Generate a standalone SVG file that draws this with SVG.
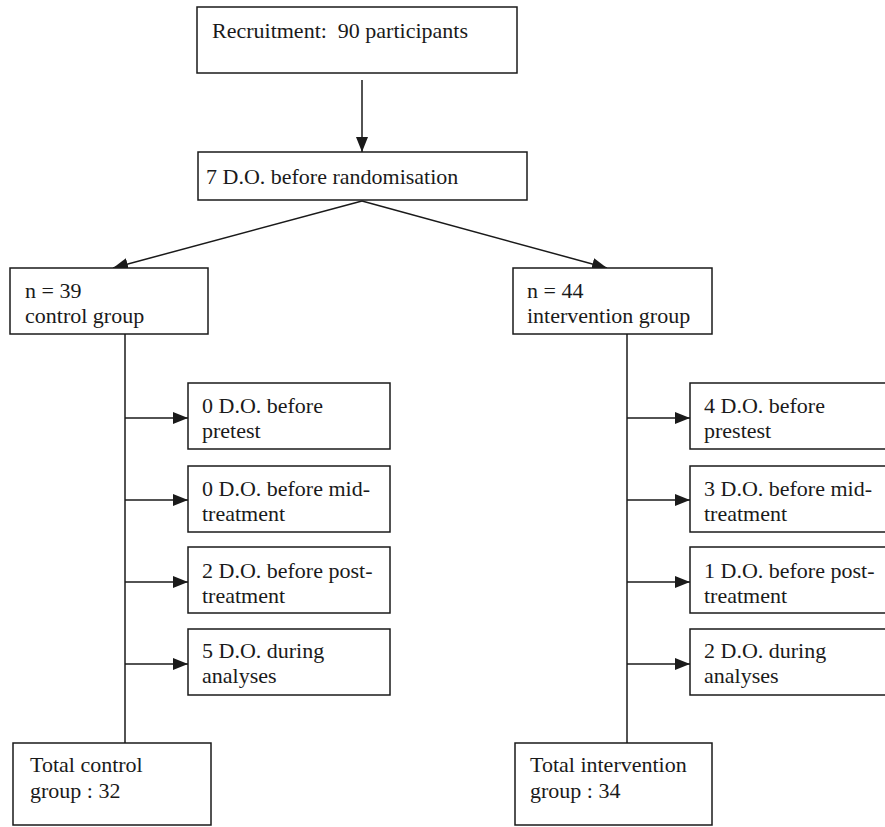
<svg xmlns="http://www.w3.org/2000/svg" width="885" height="827" viewBox="0 0 885 827">
<style>
.box{fill:#fff;stroke:#1a1a1a;stroke-width:1.5}
.t{font-family:"Liberation Serif","Times New Roman",serif;font-size:22px;fill:#1a1a1a;white-space:pre}
.ln{stroke:#1a1a1a;stroke-width:1.5;fill:none}
</style>
<defs>
<marker id="ah" viewBox="0 0 15 12" refX="15" refY="6" markerWidth="15" markerHeight="12" markerUnits="userSpaceOnUse" orient="auto">
<path d="M0,0 L15,6 L0,12 z" fill="#1a1a1a"/>
</marker>
</defs>
<rect width="885" height="827" fill="#fff"/>
<g id="connectors">
<line class="ln" x1="362" y1="80" x2="362" y2="152" marker-end="url(#ah)"/>
<line class="ln" x1="362" y1="201" x2="113" y2="268" marker-end="url(#ah)"/>
<line class="ln" x1="362" y1="201" x2="607" y2="268" marker-end="url(#ah)"/>
<line class="ln" x1="125" y1="334" x2="125" y2="743"/>
<line class="ln" x1="627" y1="334" x2="627" y2="743"/>
<line class="ln" x1="125" y1="418" x2="188" y2="418" marker-end="url(#ah)"/>
<line class="ln" x1="125" y1="500" x2="188" y2="500" marker-end="url(#ah)"/>
<line class="ln" x1="125" y1="582" x2="188" y2="582" marker-end="url(#ah)"/>
<line class="ln" x1="125" y1="664" x2="188" y2="664" marker-end="url(#ah)"/>
<line class="ln" x1="627" y1="418" x2="690" y2="418" marker-end="url(#ah)"/>
<line class="ln" x1="627" y1="500" x2="690" y2="500" marker-end="url(#ah)"/>
<line class="ln" x1="627" y1="582" x2="690" y2="582" marker-end="url(#ah)"/>
<line class="ln" x1="627" y1="664" x2="690" y2="664" marker-end="url(#ah)"/>
</g>
<g id="recruitment"><rect class="box" x="197" y="7" width="320" height="66"/><text class="t" x="212" y="38" xml:space="preserve">Recruitment:  90 participants</text></g>
<g id="dropout-random"><rect class="box" x="198" y="152" width="329" height="48"/><text class="t" x="206" y="184">7 D.O. before randomisation</text></g>
<g id="control"><rect class="box" x="10" y="268" width="198" height="66"/><text class="t" x="25" y="298">n = 39</text><text class="t" x="25" y="323">control group</text></g>
<g id="intervention"><rect class="box" x="513" y="268" width="199" height="66"/><text class="t" x="527" y="298">n = 44</text><text class="t" x="527" y="323">intervention group</text></g>
<g id="c1"><rect class="box" x="188" y="383" width="202" height="66"/><text class="t" x="202" y="413">0 D.O. before</text><text class="t" x="202" y="438">pretest</text></g>
<g id="c2"><rect class="box" x="188" y="466" width="202" height="66"/><text class="t" x="202" y="496">0 D.O. before mid-</text><text class="t" x="202" y="521">treatment</text></g>
<g id="c3"><rect class="box" x="188" y="547" width="202" height="66"/><text class="t" x="202" y="578">2 D.O. before post-</text><text class="t" x="202" y="603">treatment</text></g>
<g id="c4"><rect class="box" x="188" y="629" width="202" height="66"/><text class="t" x="202" y="658">5 D.O. during</text><text class="t" x="202" y="683">analyses</text></g>
<g id="i1"><rect class="box" x="690" y="383" width="200" height="66"/><text class="t" x="704" y="413">4 D.O. before</text><text class="t" x="704" y="438">prestest</text></g>
<g id="i2"><rect class="box" x="690" y="466" width="200" height="66"/><text class="t" x="704" y="496">3 D.O. before mid-</text><text class="t" x="704" y="521">treatment</text></g>
<g id="i3"><rect class="box" x="690" y="547" width="200" height="66"/><text class="t" x="704" y="578">1 D.O. before post-</text><text class="t" x="704" y="603">treatment</text></g>
<g id="i4"><rect class="box" x="690" y="629" width="200" height="66"/><text class="t" x="704" y="658">2 D.O. during</text><text class="t" x="704" y="683">analyses</text></g>
<g id="total-control"><rect class="box" x="13" y="743" width="198" height="82"/><text class="t" x="30" y="772">Total control</text><text class="t" x="30" y="798">group : 32</text></g>
<g id="total-intervention"><rect class="box" x="515" y="743" width="197" height="82"/><text class="t" x="530" y="772">Total intervention</text><text class="t" x="530" y="798">group : 34</text></g>
</svg>
